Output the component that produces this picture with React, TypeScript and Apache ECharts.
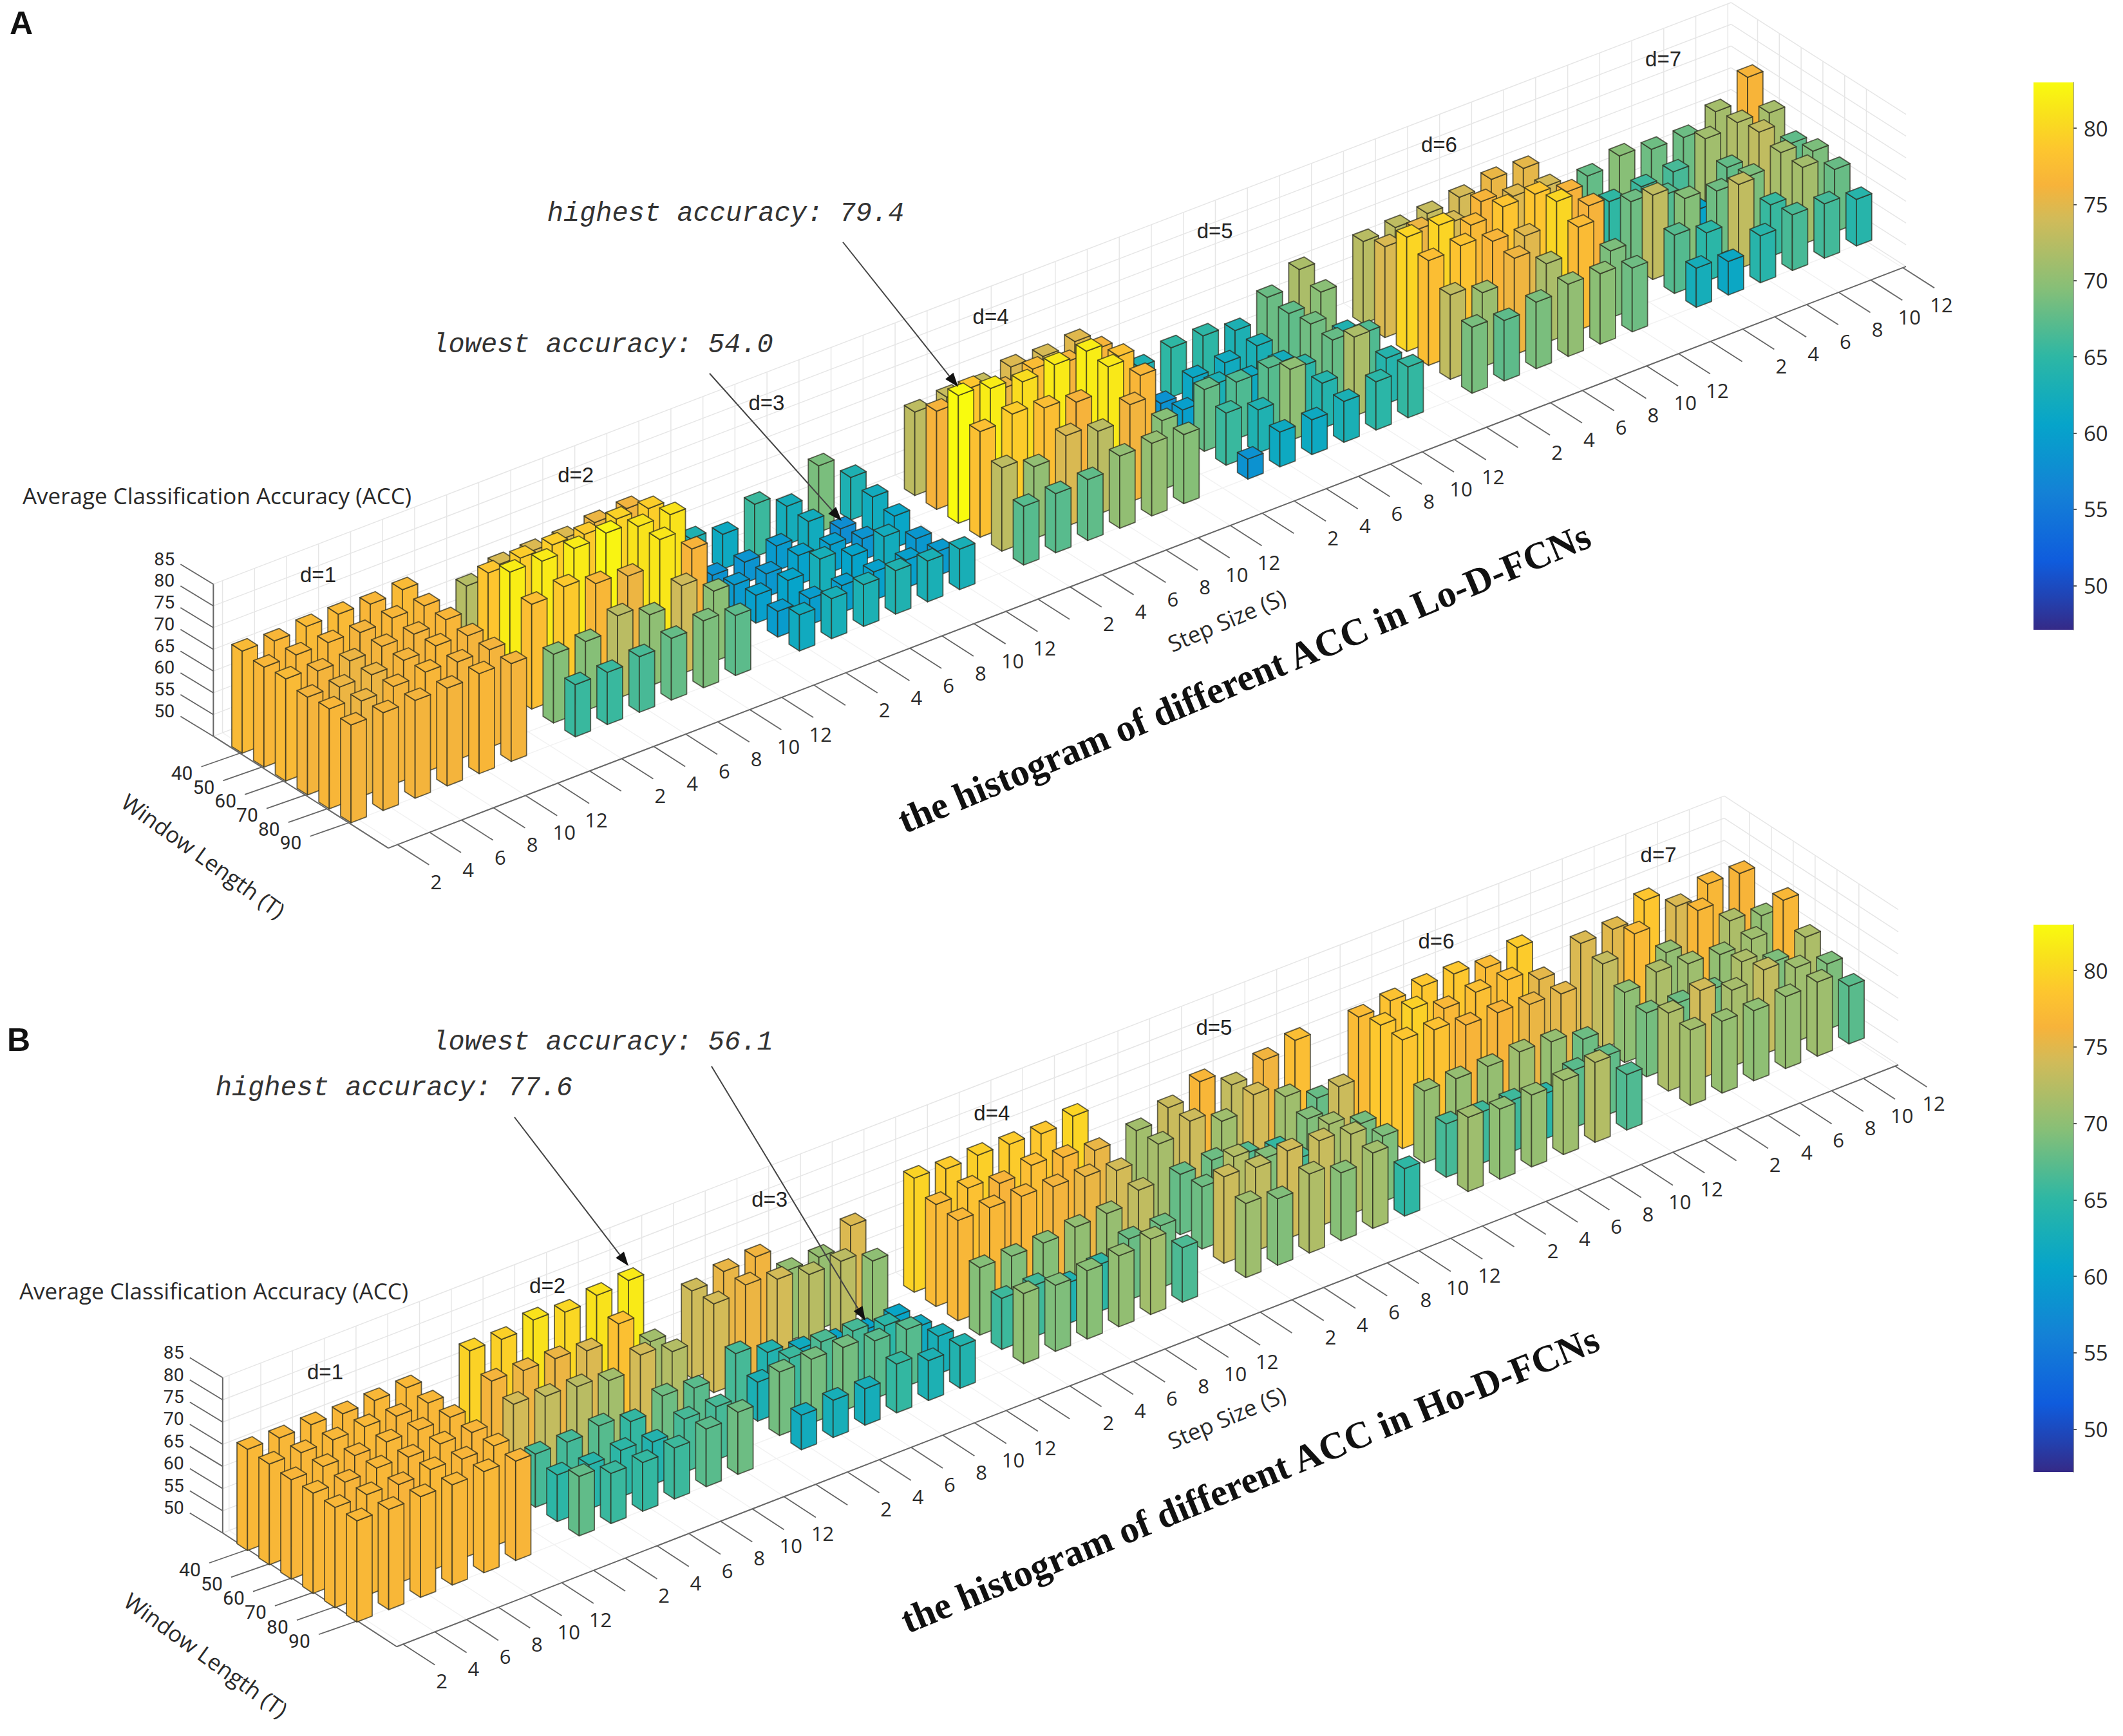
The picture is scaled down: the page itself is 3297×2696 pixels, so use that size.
import { useEffect, useRef } from "react";
import * as echarts from "echarts";

const WINDOW_LABELS = ["40", "50", "60", "70", "80", "90"];
const STEP_LABELS = ["2", "4", "6", "8", "10", "12", ""];
const ACC_TICKS = [50, 55, 60, 65, 70, 75, 80, 85];
const COLORBAR_TICKS = [50, 55, 60, 65, 70, 75, 80];
const PARULA = [
  "#352a87", "#2044b5", "#0f5cdd", "#116fda", "#1481d6", "#0c93d0", "#06a4ca", "#18aeb7", "#2eb7a4",
  "#5abb8c", "#87bf77", "#acbd68", "#d1bb59", "#f7b33a", "#fdc52f", "#f9df1d", "#f9fb0e",
];

// rows are T = 40..90, columns are S = 2..12
const LO_D1 = [
  [73.5, 73, 73.5, 73.5, 73, 73.5],
  [73, 73, 73, 72.5, 73, 73],
  [73.5, 72.5, 72, 72.5, 72.5, 73],
  [72.5, 72, 72, 72.5, 73, 72.5],
  [73, 72, 72.5, 73, 72.5, 72.5],
  [72.5, 72.5, 72.5, 72.5, 73, 72.5],
];
const LO_D2 = [
  [68.7, 70.8, 71, 71.1, 72, 72.4],
  [74.9, 75.5, 75.7, 75.3, 76, 75.6],
  [78.3, 78, 78.1, 78.8, 77.5, 77.4],
  [74.1, 75.3, 73.2, 72.1, 77.7, 72.7],
  [65.8, 65.9, 69, 66.4, 70.3, 66.2],
  [62, 62, 62.8, 64.2, 65.4, 63.8],
];
const LO_D3 = [
  [59.8, 58, 62.1, 58.8, 65.3, 59.8],
  [54.6, 54.8, 55.7, 58.5, 54, 58.5],
  [55.6, 55.3, 56.7, 56.3, 54.9, 57.3],
  [56.4, 57, 59.1, 57, 58.6, 55.3],
  [55.9, 56, 56.2, 56.5, 56.4, 55.6],
  [58.3, 59.2, 59.6, 60, 59.4, 59.3],
];
const LO_D4 = [
  [69.2, 69.8, 69.7, 71.1, 70.7, 71.3],
  [72.6, 75, 72, 73.8, 72.5, 72.8],
  [79.4, 78.2, 76.9, 78, 78.3, 74.3],
  [74.3, 75.5, 74.1, 72.6, 77.9, 73.1],
  [69.2, 66.6, 70.9, 69.1, 72.4, 65.9],
  [63.5, 63.6, 64, 66.6, 66.7, 65.9],
];
const LO_D5 = [
  [59.8, 61.4, 61.3, 59.7, 64.5, 68.1],
  [54.6, 57.7, 58.3, 59.4, 64, 66.1],
  [56.3, 59.4, 58, 58.7, 64.8, 60],
  [64.2, 63.1, 63.5, 61, 64.3, 63.2],
  [62, 59.9, 66.4, 60.4, 68.2, 60.5],
  [54.6, 58, 58, 59.4, 61.1, 61.7],
];
const LO_D6 = [
  [68.9, 69.3, 69.7, 70.6, 71.9, 71.6],
  [70.9, 72, 70.7, 72.8, 71.2, 70.6],
  [76.3, 76.2, 73.4, 74.8, 74.9, 72.6],
  [74.1, 74.7, 72.9, 71.3, 76.4, 72.6],
  [69.4, 67.1, 72.2, 68.1, 73.7, 65.4],
  [65.2, 63.9, 65.3, 66.6, 66.2, 64.7],
];
const LO_D7 = [
  [64.2, 66, 64.7, 64.6, 67.7, 72.8],
  [61.5, 62.1, 62.7, 67.5, 68.4, 67.8],
  [64.7, 63.3, 57, 64.1, 69.4, 64],
  [69.4, 65.8, 64.7, 65.3, 67.9, 65.4],
  [63.4, 61.1, 69.4, 61.9, 67.7, 64.4],
  [59, 57.7, 60.8, 62.8, 62.5, 60.7],
];

const HO_D1 = [
  [72.8, 72.6, 72.8, 72.5, 72.7, 72.8],
  [72.7, 72.5, 72.6, 72.8, 72.4, 72.6],
  [72.4, 72.6, 72.3, 72.6, 72.5, 72.6],
  [72.6, 72.3, 72.7, 72.4, 72.6, 72.4],
  [72.6, 72.7, 72.2, 72.8, 72.4, 72.6],
  [72.8, 72.6, 72.7, 72.6, 72.8, 72.4],
];
const HO_D2 = [
  [75.6, 75.4, 77, 76, 77, 77.6],
  [72, 71.6, 71.5, 70.5, 73.8, 67],
  [70, 69, 68.4, 67, 70, 68],
  [62, 61.9, 62.8, 61, 64, 63],
  [60.5, 60, 60.5, 59.6, 62, 62],
  [63.4, 61.3, 61, 61.5, 63, 64],
];
const HO_D3 = [
  [69.7, 71.3, 71.8, 66, 66.2, 70.5],
  [70, 71.5, 70, 68.3, 68.5, 65.8],
  [62, 59.5, 57.5, 56.5, 56.1, 56.5],
  [58.8, 61.4, 62.3, 62, 60.4, 57.3],
  [64.3, 64.4, 64.3, 63, 62.8, 58.5],
  [57.8, 58.4, 58.2, 61, 59, 59.5],
];
const HO_D4 = [
  [75.7, 75, 75.3, 75, 74.6, 75.8],
  [73, 73.9, 72.2, 73.5, 72.5, 71.3],
  [72.6, 72.7, 72.5, 71.9, 71.4, 70],
  [65.2, 65, 65.2, 66, 66.3, 68.8],
  [61.5, 61.6, 59.2, 60.6, 63.8, 64],
  [65.8, 64.9, 65.4, 66, 67, 62.3],
];
const HO_D5 = [
  [67, 69.4, 72.5, 69, 71.8, 73.5],
  [67.2, 69.6, 66.8, 70, 66.8, 63.7],
  [63.6, 64, 62.6, 61, 65, 69.5],
  [64, 68, 65, 62, 67, 64.4],
  [69.5, 68.8, 69.8, 69.3, 68, 64.8],
  [66.7, 65, 67.8, 65.3, 67, 60.7],
];
const HO_D6 = [
  [73.2, 74.1, 74.6, 74.6, 73.2, 75],
  [74.6, 75.5, 72.8, 73.7, 73.7, 71],
  [74.5, 74, 72.3, 72.3, 71.4, 71],
  [66.2, 66.2, 66.2, 66.7, 66.2, 64],
  [62, 61.6, 61.6, 60.2, 63, 63.4],
  [66.7, 65.8, 66.2, 66.7, 68, 62.5],
];
const HO_D7 = [
  [70.4, 70.8, 74.5, 70.4, 72.7, 72.3],
  [69, 73, 66, 72.7, 67.6, 66],
  [65.8, 67.6, 66.7, 66, 66.7, 72.7],
  [64.4, 63.9, 64, 67.6, 64.8, 67.6],
  [67.6, 69.9, 67.2, 69, 66.7, 64.8],
  [67, 66.2, 65.8, 66.2, 66.7, 63],
];

const LO_GROUPS = [LO_D1, LO_D2, LO_D3, LO_D4, LO_D5, LO_D6, LO_D7];
const HO_GROUPS = [HO_D1, HO_D2, HO_D3, HO_D4, HO_D5, HO_D6, HO_D7];

const PANELS = [
  {
    letter: "A", letterAt: [33, 36],
    groups: LO_GROUPS, colorDomain: [43.5, 79.4],
    o: [549, 1268], U: [49.74, -19.06], V: [33.8, 21.6], K: 6.75,
    pRange: [0.715, 48.1], tRange: [-1.02, 7.02], tickShift: 0.2,
    zTitle: [337, 769], wTitle: [316, 1329], sTitle: [1905, 963],
    dAt: [494, 892], dNudge: [[0, 0], [52, -21], [0, 0], [0, 0], [0, 0], [0, 0], [0, 0]],
    title: "the histogram of different ACC in Lo-D-FCNs", titleAt: [1932, 1053], titleRot: 22.7,
    notes: [
      { text: "highest accuracy: 79.4", at: [1127, 332], from: [1309, 376], to: [1488, 601] },
      { text: "lowest accuracy: 54.0", at: [936, 536], from: [1102, 580], to: [1307, 809] },
    ],
    bar: { top: 128, height: 850, min: 47.1 },
  },
  {
    letter: "B", letterAt: [29, 1615],
    groups: HO_GROUPS, colorDomain: [42.5, 79],
    o: [558, 2509], U: [49.3, -19.1], V: [34, 22.2], K: 6.89,
    pRange: [0.8, 48.1], tRange: [-0.95, 7], tickShift: 0.2,
    zTitle: [332, 2004], wTitle: [320, 2570], sTitle: [1905, 2201],
    dAt: [505, 2130], dNudge: [[0, 0], [0, 0], [0, 0], [0, 0], [0, 0], [0, 0], [0, 0]],
    title: "the histogram of different ACC in Ho-D-FCNs", titleAt: [1941, 2298], titleRot: 22.3,
    notes: [
      { text: "lowest accuracy: 56.1", at: [936, 1619], from: [1105, 1656], to: [1344, 2051] },
      { text: "highest accuracy: 77.6", at: [612, 1690], from: [799, 1735], to: [976, 1966] },
    ],
    bar: { top: 1436, height: 850, min: 47.2 },
  },
];

const BAR_HALF = 0.24;
const SANS = '"Open Sans", sans-serif';
const rad = (deg: number) => (deg * Math.PI) / 180;

type Panel = (typeof PANELS)[number];

// oblique projection of (x position, window index, accuracy) to page pixels
function project(pn: Panel, p: number, t: number, z: number) {
  return [
    pn.o[0] + (p - 1) * pn.U[0] + (t - 5) * pn.V[0],
    pn.o[1] + (p - 1) * pn.U[1] + (t - 5) * pn.V[1] - (z - 50) * pn.K,
  ];
}

function barData(pn: Panel) {
  const rows: number[][] = [];
  pn.groups.forEach((g, d) =>
    g.forEach((row, t) => row.forEach((v, s) => rows.push([d * 7 + s + 1, t, v]))),
  );
  // far bars first so nearer ones paint over them
  return rows.sort((a, b) => project(pn, a[0], a[1], 50)[1] - project(pn, b[0], b[1], 50)[1]);
}

function barSeries(pn: Panel) {
  const [lo, hi] = pn.colorDomain;
  return {
    type: "custom",
    coordinateSystem: "none",
    silent: true,
    z: 2,
    data: barData(pn),
    renderItem: (_: any, api: any) => {
      const p = api.value(0), t = api.value(1), v = api.value(2);
      const c = echarts.color.lerp(Math.min(1, Math.max(0, (v - lo) / (hi - lo))), PARULA);
      const a = BAR_HALF;
      const l = (z: number) => project(pn, p - a, t - a, z);
      const f = (z: number) => project(pn, p - a, t + a, z);
      const r = (z: number) => project(pn, p + a, t + a, z);
      const b = (z: number) => project(pn, p + a, t - a, z);
      const style = { fill: c, stroke: "rgba(45,45,30,0.72)", lineWidth: 1.8, lineJoin: "round" };
      return {
        type: "group",
        children: [
          { type: "polygon", shape: { points: [l(50), f(50), f(v), l(v)] }, style },
          { type: "polygon", shape: { points: [f(50), r(50), r(v), f(v)] }, style },
          { type: "polygon", shape: { points: [l(v), f(v), r(v), b(v)] }, style },
        ],
      };
    },
  };
}

function frameSeries(pn: Panel) {
  const [p0, p1] = pn.pRange;
  const [t0, t1] = pn.tRange;
  const [z0, z1] = [50, 85];
  const line = (a: number[], b: number[], stroke: string, lineWidth: number) => ({
    type: "line",
    shape: { x1: a[0], y1: a[1], x2: b[0], y2: b[1] },
    style: { stroke, lineWidth },
  });
  const label = (text: string, at: number[], fontSize = 31, rotDeg = 0, family = SANS) => ({
    type: "text",
    x: at[0],
    y: at[1],
    rotation: rad(rotDeg),
    style: {
      text,
      fill: "#2a2a2a",
      fontSize,
      fontFamily: family,
      textAlign: "center",
      textVerticalAlign: "middle",
    },
  });
  const P = (p: number, t: number, z: number) => project(pn, p, t, z);
  const grid = "#e6e6e6";
  const floor = "#f2f2f2";
  const dark = "#666";
  const kids: any[] = [];
  const positions: number[] = [];
  for (let i = 1; i <= 48; i++) positions.push(i);

  positions.forEach((p) => {
    kids.push(line(P(p, t0, z0), P(p, t0, z1), grid, 1.5));
    kids.push(line(P(p, t0, z0), P(p, t1, z0), floor, 1.5));
  });
  WINDOW_LABELS.forEach((_, i) => {
    const t = i + pn.tickShift;
    kids.push(line(P(p0, t, z0), P(p1, t, z0), floor, 1.5));
    kids.push(line(P(p1, t, z0), P(p1, t, z1), grid, 1.5));
  });
  ACC_TICKS.forEach((z) => {
    kids.push(line(P(p0, t0, z), P(p1, t0, z), grid, 1.5));
    kids.push(line(P(p1, t0, z), P(p1, t1, z), grid, 1.5));
  });

  // axis lines
  kids.push(line(P(p0, t0, z0), P(p0, t0, z1), dark, 2));
  kids.push(line(P(p0, t0, z0), P(p0, t1, z0), dark, 2));
  kids.push(line(P(p0, t1, z0), P(p1, t1, z0), dark, 2));

  // step ticks
  positions.forEach((p, i) => {
    const a = P(p, t1, z0);
    kids.push(line(a, [a[0] + pn.V[0] * 1.45, a[1] + pn.V[1] * 1.45], dark, 1.8));
    const txt = STEP_LABELS[i % 7];
    if (txt) kids.push(label(txt, [a[0] + 60, a[1] + 57]));
  });
  // window ticks
  WINDOW_LABELS.forEach((txt, i) => {
    const a = P(p0, i + pn.tickShift, z0);
    kids.push(line(a, [a[0] - 60, a[1] + 21], dark, 1.8));
    kids.push(label(txt, [a[0] - 90, a[1] + 31], 30, 0, "Roboto"));
  });
  // accuracy ticks
  ACC_TICKS.forEach((z) => {
    const a = P(p0, t0, z);
    kids.push(line(a, [a[0] - 51, a[1] - 31], dark, 1.8));
    kids.push(label(String(z), [a[0] - 76, a[1] - 39], 28.5, 0, "Roboto"));
  });

  kids.push(label("Average Classification Accuracy (ACC)", pn.zTitle, 35));
  kids.push(label("Window Length (T)", pn.wTitle, 35, -35.8));
  kids.push(label("Step Size (S)", pn.sTitle, 35, 23));

  return {
    type: "custom",
    coordinateSystem: "none",
    silent: true,
    z: 1,
    data: [[0]],
    renderItem: () => ({ type: "group", children: kids }),
  };
}

function noteSeries(pn: Panel) {
  const kids: any[] = [];
  pn.groups.forEach((_, d) => {
    kids.push({
      type: "text",
      x: pn.dAt[0] + d * 7 * pn.U[0] + pn.dNudge[d][0],
      y: pn.dAt[1] + d * 7 * pn.U[1] + pn.dNudge[d][1],
      style: {
        text: `d=${d + 1}`,
        fill: "#222",
        fontSize: 33,
        fontFamily: "Liberation Sans",
        textAlign: "center",
        textVerticalAlign: "middle",
      },
    });
  });
  pn.notes.forEach((n) => {
    kids.push({
      type: "text",
      x: n.at[0],
      y: n.at[1],
      style: {
        text: n.text,
        fill: "#333",
        fontSize: 42,
        fontStyle: "italic",
        fontFamily: "Liberation Mono",
        textAlign: "center",
        textVerticalAlign: "middle",
      },
    });
    const dx = n.to[0] - n.from[0];
    const dy = n.to[1] - n.from[1];
    const len = Math.hypot(dx, dy);
    const ux = dx / len;
    const uy = dy / len;
    const bx = n.to[0] - ux * 22;
    const by = n.to[1] - uy * 22;
    kids.push({
      type: "line",
      shape: { x1: n.from[0], y1: n.from[1], x2: bx, y2: by },
      style: { stroke: "#444", lineWidth: 2 },
    });
    kids.push({
      type: "polygon",
      shape: {
        points: [n.to, [bx - uy * 8, by + ux * 8], [bx + uy * 8, by - ux * 8]],
      },
      style: { fill: "#111" },
    });
  });
  kids.push({
    type: "text",
    x: pn.titleAt[0],
    y: pn.titleAt[1],
    rotation: rad(pn.titleRot),
    style: {
      text: pn.title,
      fill: "#111",
      fontSize: 59,
      fontWeight: "bold",
      fontFamily: "Liberation Serif",
      textAlign: "center",
      textVerticalAlign: "middle",
    },
  });
  kids.push({
    type: "text",
    x: pn.letterAt[0],
    y: pn.letterAt[1],
    style: {
      text: pn.letter,
      fill: "#111",
      fontSize: 50,
      fontWeight: "bold",
      fontFamily: "Liberation Sans",
      textAlign: "center",
      textVerticalAlign: "middle",
    },
  });
  return {
    type: "custom",
    coordinateSystem: "none",
    silent: true,
    z: 3,
    data: [[0]],
    renderItem: () => ({ type: "group", children: kids }),
  };
}

function buildOption() {
  const gradient = () =>
    new echarts.graphic.LinearGradient(
      0, 0, 0, 1,
      [...PARULA].reverse().map((color, i) => ({ offset: i / (PARULA.length - 1), color })),
    );
  return {
    animation: false,
    backgroundColor: "#fff",
    grid: PANELS.map((pn) => ({
      left: 3158, width: 62, top: pn.bar.top, height: pn.bar.height, containLabel: false,
    })),
    xAxis: PANELS.map((_, i) => ({ type: "category", gridIndex: i, data: ["c"], show: false })),
    yAxis: PANELS.map((pn, i) => ({
      type: "value",
      gridIndex: i,
      position: "right",
      min: pn.bar.min,
      max: 83,
      splitLine: { show: false },
      axisLine: { show: true, lineStyle: { color: "#777", width: 1.5 } },
      axisTick: { show: true, length: 5, customValues: COLORBAR_TICKS, lineStyle: { color: "#555", width: 2 } },
      axisLabel: {
        customValues: COLORBAR_TICKS,
        margin: 16,
        fontSize: 33,
        fontFamily: SANS,
        color: "#2a2a2a",
      },
    })),
    series: [
      ...PANELS.flatMap((pn) => [frameSeries(pn), barSeries(pn), noteSeries(pn)]),
      ...PANELS.map((_, i) => ({
        type: "bar",
        xAxisIndex: i,
        yAxisIndex: i,
        data: [83],
        barWidth: "100%",
        silent: true,
        itemStyle: { color: gradient() },
      })),
    ],
  };
}

export default function App() {
  const ref = useRef<HTMLDivElement>(null);
  useEffect(() => {
    if (!ref.current) return;
    const chart = echarts.init(ref.current, null, { renderer: "svg" });
    chart.setOption(buildOption() as any);
    return () => chart.dispose();
  }, []);
  return (
    <div
      ref={ref}
      style={{ position: "absolute", left: 0, top: 0, width: 3297, height: 2696, background: "#fff" }}
    />
  );
}
